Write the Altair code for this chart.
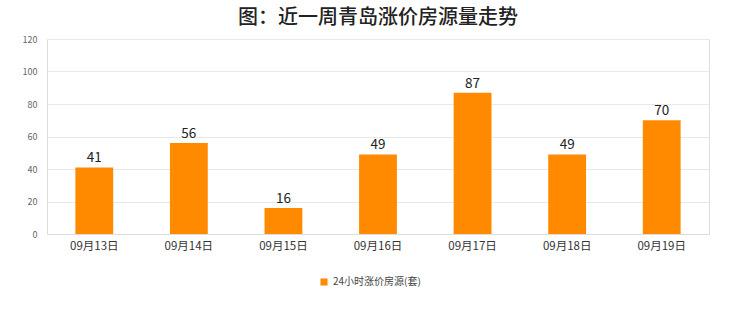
import altair as alt
import pandas as pd

dates = ["09月13日", "09月14日", "09月15日", "09月16日", "09月17日", "09月18日", "09月19日"]
values = [41, 56, 16, 49, 87, 49, 70]
series = ["24小时涨价房源(套)"] * len(dates)

df = pd.DataFrame({"date": dates, "value": values, "series": series})

FONT = "Noto Sans CJK SC"

base = alt.Chart(df).encode(
    x=alt.X("date:N", sort=dates, title=None,
            scale=alt.Scale(paddingInner=0.6, paddingOuter=0.3),
            axis=alt.Axis(labelAngle=0, ticks=False, domain=True, domainColor="#dddddd",
                          labelFontSize=11.5, labelColor="#333333", labelFont=FONT, labelPadding=6)),
    y=alt.Y("value:Q", title=None,
            scale=alt.Scale(domain=[0, 120]),
            axis=alt.Axis(values=[0, 20, 40, 60, 80, 100, 120], ticks=False, domain=False,
                          gridColor="#e8e8e8", labelFontSize=9, labelColor="#666666",
                          labelPadding=10, labelFont=FONT)),
)

bars = base.mark_bar(color="#ff8a00").encode(
    color=alt.Color("series:N", scale=alt.Scale(range=["#ff8a00"]),
                    legend=alt.Legend(title=None, orient="none", legendX=272, legendY=238,
                                      symbolType="square", symbolSize=50, labelFontSize=10,
                                      labelColor="#444444", labelFont=FONT))
)

labels = base.mark_text(dy=-9, fontSize=13.5, color="#222222", font=FONT).encode(
    text="value:Q"
)

chart = (bars + labels).properties(
    width=662, height=195,
    title=alt.TitleParams("图：近一周青岛涨价房源量走势", fontSize=20, font=FONT,
                          fontWeight=500, color="#222222", anchor="middle", offset=7),
    autosize=alt.AutoSizeParams(type="none"),
    padding={"left": 47, "top": 39, "right": 31, "bottom": 78},
).configure_view(stroke="#dddddd").configure(background="white")

chart.save("out.html", embed_options={"renderer": "svg", "actions": False})
